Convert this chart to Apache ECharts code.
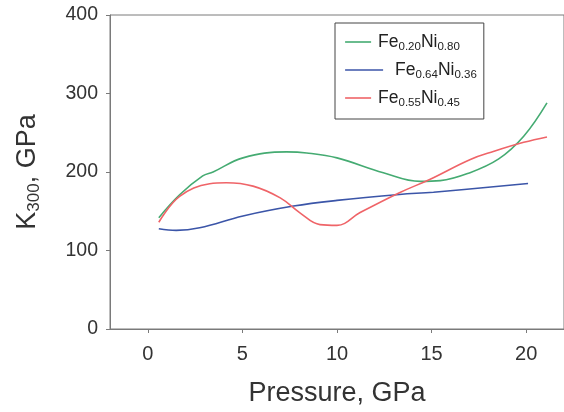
<!DOCTYPE html>
<html>
<head>
<meta charset="utf-8">
<script src="https://cdn.jsdelivr.net/npm/echarts@6/dist/echarts.min.js"></script>
<style>
  html, body { margin: 0; padding: 0; background: #fff; }
  #chart { width: 564px; height: 412px; }
</style>
</head>
<body>
<div id="chart"></div>
<script>
// Bulk modulus K300 versus pressure for three Fe–Ni compositions
const xTicks = [0, 5, 10, 15, 20];
const yTicks = [0, 100, 200, 300, 400];

const pressureFe20 = [0.58, 1.68, 2.9, 3.45, 5.03, 7.33, 8.4, 10, 12.45, 14.4, 15.46, 16.9, 18.55, 19.87, 21.1];
const k300Fe20     = [141.8, 171, 195, 200, 218, 225.6, 224.3, 218, 199, 188, 189, 198, 216.7, 245.5, 288];

const pressureFe64 = [0.58, 1.5, 2.74, 5.03, 7.7, 10, 13.3, 15.1, 20.1];
const k300Fe64     = [127.8, 125.7, 129, 144, 156.6, 163.8, 171.4, 174.3, 185.4];

const pressureFe55 = [0.58, 1.68, 3.27, 4.15, 5.56, 7, 8.04, 9.1, 10, 11.2, 13.3, 14.9, 17.05, 18.3, 19.87, 21.1];
const k300Fe55     = [136, 169, 185, 186.3, 182, 167, 148, 133, 132, 148, 173.6, 190.5, 216, 226.4, 237.8, 244.7];

const seriesNames = ['Fe0.20Ni0.80', 'Fe0.64Ni0.36', 'Fe0.55Ni0.45'];
const seriesColors = ['#45ab72', '#3b55a8', '#ef6468'];

// legend keys are drawn as rich-text swatches; the middle one is longer
const legendLabels = {
  'Fe0.20Ni0.80': '{k0|}{gap|}{m|Fe}{s|0.20}{m|Ni}{s|0.80}',
  'Fe0.64Ni0.36': '{k1|}{gapWide|}{m|Fe}{s|0.64}{m|Ni}{s|0.36}',
  'Fe0.55Ni0.45': '{k2|}{gap|}{m|Fe}{s|0.55}{m|Ni}{s|0.45}'
};

const zip = (xs, ys) => xs.map((x, i) => [x, ys[i]]);

const font = 'Liberation Sans, Arial, sans-serif';
const chart = echarts.init(document.getElementById('chart'), null, { renderer: 'canvas' });

chart.setOption({
  animation: false,
  backgroundColor: '#fff',
  textStyle: { fontFamily: font },
  grid: {
    left: 110, top: 15, right: -1, bottom: 82,
    show: true, borderColor: '#7a7a7a', borderWidth: 1
  },
  legend: {
    left: 335, top: 23,
    orient: 'vertical',
    itemWidth: 0.1, itemHeight: 0.1,
    itemGap: 8,
    icon: 'rect',
    borderColor: '#444', borderWidth: 1,
    padding: [10, 7, 10, 5],
    backgroundColor: '#fff',
    formatter: name => legendLabels[name],
    textStyle: {
      fontFamily: font,
      rich: {
        m: { fontSize: 17.5, color: '#222', fontFamily: font },
        s: { fontSize: 11.5, color: '#222', fontFamily: font, padding: [10, 0, 0, 0] },
        k0: { width: 26, height: 1.6, backgroundColor: seriesColors[0] },
        k1: { width: 38, height: 1.6, backgroundColor: seriesColors[1] },
        k2: { width: 26, height: 1.6, backgroundColor: seriesColors[2] },
        gap: { width: 7 },
        gapWide: { width: 12 }
      }
    },
    data: seriesNames
  },
  xAxis: {
    type: 'value',
    min: -2, max: 22,
    name: 'Pressure, GPa',
    nameLocation: 'middle',
    nameGap: 51,
    nameTextStyle: { fontSize: 27, color: '#333', fontFamily: font },
    axisLine: { show: true, onZero: false, lineStyle: { color: '#7a7a7a' } },
    axisTick: { show: true, length: 4, customValues: xTicks, lineStyle: { color: '#7a7a7a' } },
    axisLabel: { customValues: xTicks, fontSize: 20, color: '#333', margin: 15, fontFamily: font },
    splitLine: { show: false }
  },
  yAxis: {
    type: 'value',
    min: 0, max: 400, interval: 100,
    name: '{m|K}{s|300}{m|, GPa}',
    nameLocation: 'middle',
    nameGap: 67,
    nameRotate: 90,
    nameTextStyle: {
      fontFamily: font,
      rich: {
        m: { fontSize: 27, color: '#333', fontFamily: font },
        s: { fontSize: 17, color: '#333', fontFamily: font, padding: [14, 0, 0, 0] }
      }
    },
    axisLine: { show: true, onZero: false, lineStyle: { color: '#7a7a7a' } },
    axisTick: { show: true, length: 4, lineStyle: { color: '#7a7a7a' } },
    axisLabel: { fontSize: 19.5, color: '#333', margin: 12, fontFamily: font,
                 formatter: v => (yTicks.includes(v) ? String(v) : '') },
    splitLine: { show: false }
  },
  series: [
    { name: seriesNames[0], type: 'line', smooth: 0.4, showSymbol: false,
      data: zip(pressureFe20, k300Fe20), color: seriesColors[0], lineStyle: { width: 1.6 } },
    { name: seriesNames[1], type: 'line', smooth: 0.4, showSymbol: false,
      data: zip(pressureFe64, k300Fe64), color: seriesColors[1], lineStyle: { width: 1.6 } },
    { name: seriesNames[2], type: 'line', smooth: 0.4, showSymbol: false,
      data: zip(pressureFe55, k300Fe55), color: seriesColors[2], lineStyle: { width: 1.6 } }
  ]
});
</script>
</body>
</html>
